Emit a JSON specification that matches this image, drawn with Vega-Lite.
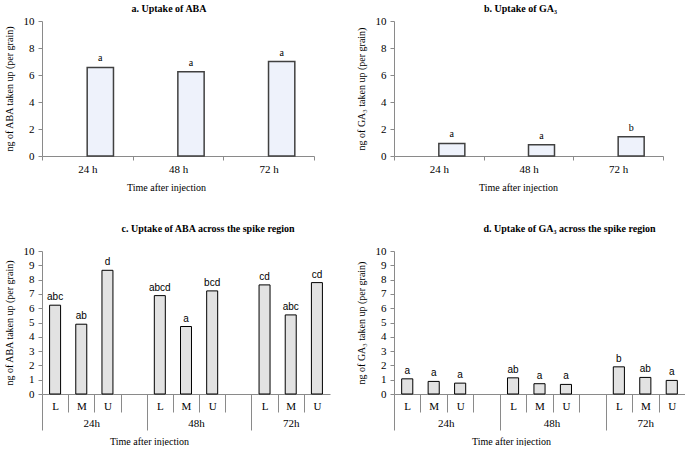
{
  "$schema": "https://vega.github.io/schema/vega-lite/v6.json",
  "padding": {"left": 3, "top": 4, "right": 0, "bottom": 0},
  "config": {
    "view": {"stroke": null},
    "font": "Liberation Serif",
    "axis": {
      "grid": false,
      "domainColor": "#8a8a8a",
      "tickColor": "#8a8a8a",
      "labelColor": "#000000",
      "titleColor": "#000000",
      "labelFont": "Liberation Serif",
      "titleFont": "Liberation Serif",
      "labelFontSize": 11,
      "titleFontSize": 10,
      "titleFontWeight": "normal"
    },
    "axisY": {"tickSize": 4, "labelPadding": 4, "titlePadding": 9},
    "title": {"font": "Liberation Serif", "fontSize": 10, "fontWeight": "bold", "color": "#000000"}
  },
  "datasets": {
    "top": [
      {"panel": "a", "time": "24 h", "value": 6.56, "sig": "a"},
      {"panel": "a", "time": "48 h", "value": 6.24, "sig": "a"},
      {"panel": "a", "time": "72 h", "value": 7.0, "sig": "a"},
      {"panel": "b", "time": "24 h", "value": 0.93, "sig": "a"},
      {"panel": "b", "time": "48 h", "value": 0.84, "sig": "a"},
      {"panel": "b", "time": "72 h", "value": 1.43, "sig": "b"}
    ],
    "bottom": [
      {"panel": "c", "time": "24h", "region": "L", "slot": "24h|L", "value": 6.21, "sig": "abc"},
      {"panel": "c", "time": "24h", "region": "M", "slot": "24h|M", "value": 4.88, "sig": "ab"},
      {"panel": "c", "time": "24h", "region": "U", "slot": "24h|U", "value": 8.65, "sig": "d"},
      {"panel": "c", "time": "48h", "region": "L", "slot": "48h|L", "value": 6.88, "sig": "abcd"},
      {"panel": "c", "time": "48h", "region": "M", "slot": "48h|M", "value": 4.72, "sig": "a"},
      {"panel": "c", "time": "48h", "region": "U", "slot": "48h|U", "value": 7.21, "sig": "bcd"},
      {"panel": "c", "time": "72h", "region": "L", "slot": "72h|L", "value": 7.63, "sig": "cd"},
      {"panel": "c", "time": "72h", "region": "M", "slot": "72h|M", "value": 5.53, "sig": "abc"},
      {"panel": "c", "time": "72h", "region": "U", "slot": "72h|U", "value": 7.79, "sig": "cd"},
      {"panel": "d", "time": "24h", "region": "L", "slot": "24h|L", "value": 1.06, "sig": "a"},
      {"panel": "d", "time": "24h", "region": "M", "slot": "24h|M", "value": 0.88, "sig": "a"},
      {"panel": "d", "time": "24h", "region": "U", "slot": "24h|U", "value": 0.76, "sig": "a"},
      {"panel": "d", "time": "48h", "region": "L", "slot": "48h|L", "value": 1.13, "sig": "ab"},
      {"panel": "d", "time": "48h", "region": "M", "slot": "48h|M", "value": 0.72, "sig": "a"},
      {"panel": "d", "time": "48h", "region": "U", "slot": "48h|U", "value": 0.67, "sig": "a"},
      {"panel": "d", "time": "72h", "region": "L", "slot": "72h|L", "value": 1.90, "sig": "b"},
      {"panel": "d", "time": "72h", "region": "M", "slot": "72h|M", "value": 1.16, "sig": "ab"},
      {"panel": "d", "time": "72h", "region": "U", "slot": "72h|U", "value": 0.95, "sig": "a"}
    ]
  },
  "columns": 2,
  "align": "all",
  "bounds": "flush",
  "spacing": {"row": 87, "column": 61},
  "concat": [
    {
      "width": 272, "height": 135,
      "title": {"text": "a. Uptake  of ABA", "offset": 1, "dx": -9},
      "data": {"name": "top"},
      "transform": [{"filter": "datum.panel === 'a'"}],
      "encoding": {
        "x": {"field": "time", "type": "nominal", "sort": null,
          "scale": {"paddingInner": 0, "paddingOuter": 0},
          "axis": {"labelAngle": 0, "tickBand": "extent", "tickSize": 4, "labelPadding": 3, "title": "Time after injection", "titleX": 124, "titleAlign": "center", "titlePadding": 8}},
        "y": {"field": "value", "type": "quantitative",
          "scale": {"domain": [0, 10]},
          "axis": {"values": [0, 2, 4, 6, 8, 10], "title": "ng of ABA taken up (per grain)"}}
      },
      "layer": [
        {"mark": {"type": "bar", "width": {"band": 0.29}, "xOffset": 13, "fill": "#eef2fb", "stroke": "#404040", "strokeWidth": 1.5}},
        {"mark": {"type": "text", "xOffset": 13, "baseline": "bottom", "dy": -4, "font": "Liberation Serif", "fontSize": 10}, "encoding": {"text": {"field": "sig"}}}
      ]
    },
    {
      "width": 269, "height": 135,
      "title": {"text": "b. Uptake  of GA₃", "offset": 1, "dx": -8},
      "data": {"name": "top"},
      "transform": [{"filter": "datum.panel === 'b'"}],
      "encoding": {
        "x": {"field": "time", "type": "nominal", "sort": null,
          "scale": {"paddingInner": 0, "paddingOuter": 0},
          "axis": {"labelAngle": 0, "tickBand": "extent", "tickSize": 4, "labelPadding": 3, "title": "Time after injection", "titleX": 124, "titleAlign": "center", "titlePadding": 8}},
        "y": {"field": "value", "type": "quantitative",
          "scale": {"domain": [0, 10]},
          "axis": {"values": [0, 2, 4, 6, 8, 10], "title": "ng of GA₃ taken up (per grain)"}}
      },
      "layer": [
        {"mark": {"type": "bar", "width": {"band": 0.29}, "xOffset": 13, "fill": "#eef2fb", "stroke": "#404040", "strokeWidth": 1.5}},
        {"mark": {"type": "text", "xOffset": 13, "baseline": "bottom", "dy": -4, "font": "Liberation Serif", "fontSize": 10}, "encoding": {"text": {"field": "sig"}}}
      ]
    },
    {
      "width": 288, "height": 143,
      "title": {"text": "c. Uptake  of ABA across the spike region", "offset": 11, "dx": 22},
      "data": {"name": "bottom"},
      "transform": [{"filter": "datum.panel === 'c'"}],
      "encoding": {
        "y": {"field": "value", "type": "quantitative",
          "scale": {"domain": [0, 10]},
          "axis": {"values": [0, 1, 2, 3, 4, 5, 6, 7, 8, 9, 10], "labelOverlap": false, "title": "ng of ABA taken up (per grain)"}}
      },
      "layer": [
        {
          "mark": {"type": "bar", "width": {"band": 0.42}, "fill": "#e2e2e2", "stroke": "#000000", "strokeWidth": 1},
          "encoding": {
            "x": {"field": "slot", "type": "nominal", "sort": null,
              "scale": {"domain": ["24h|L","24h|M","24h|U","24h|_","48h|L","48h|M","48h|U","48h|_","72h|L","72h|M","72h|U"], "paddingInner": 0, "paddingOuter": 0},
              "axis": {"labelAngle": 0, "labelExpr": "datum.value == '24h|_' || datum.value == '48h|_' ? '' : split(datum.value, '|')[1]",
                "tickBand": "extent",
                "tickSize": {"condition": {"test": "datum.extra || datum.value == '24h|_' || datum.value == '48h|_'", "value": 36}, "value": 18},
                "tickOpacity": {"condition": {"test": "datum.value == '72h|U'", "value": 0}, "value": 1},
                "labelPadding": -12,
                "title": "Time after injection", "titleX": 107, "titleY": 47, "titleAlign": "center", "titleBaseline": "middle"}}
          }
        },
        {
          "mark": {"type": "text", "baseline": "bottom", "dy": -3, "font": "Liberation Sans", "fontSize": 10},
          "encoding": {
            "x": {"field": "slot", "type": "nominal", "sort": null,
              "scale": {"domain": ["24h|L","24h|M","24h|U","24h|_","48h|L","48h|M","48h|U","48h|_","72h|L","72h|M","72h|U"], "paddingInner": 0, "paddingOuter": 0},
              "axis": {"orient": "bottom", "domain": false, "ticks": false, "tickSize": 0, "labelAngle": 0, "labelPadding": 23,
                "labelExpr": "datum.value == '24h|M' ? '24h' : datum.value == '48h|M' ? '48h' : datum.value == '72h|M' ? '72h' : ''",
                "labelOffset": {"condition": {"test": "datum.value == '72h|M'", "value": 0}, "value": 10},
                "title": null}},
            "text": {"field": "sig"}
          }
        }
      ],
      "resolve": {"scale": {"x": "independent"}, "axis": {"x": "independent"}}
    },
    {
      "width": 291, "height": 143,
      "title": {"text": "d. Uptake  of GA₃ across the spike region", "offset": 11, "dx": 30},
      "data": {"name": "bottom"},
      "transform": [{"filter": "datum.panel === 'd'"}],
      "encoding": {
        "y": {"field": "value", "type": "quantitative",
          "scale": {"domain": [0, 10]},
          "axis": {"values": [0, 1, 2, 3, 4, 5, 6, 7, 8, 9, 10], "labelOverlap": false, "title": "ng of GA₃ taken up (per grain)"}}
      },
      "layer": [
        {
          "mark": {"type": "bar", "width": {"band": 0.42}, "fill": "#e2e2e2", "stroke": "#000000", "strokeWidth": 1},
          "encoding": {
            "x": {"field": "slot", "type": "nominal", "sort": null,
              "scale": {"domain": ["24h|L","24h|M","24h|U","24h|_","48h|L","48h|M","48h|U","48h|_","72h|L","72h|M","72h|U"], "paddingInner": 0, "paddingOuter": 0},
              "axis": {"labelAngle": 0, "labelExpr": "datum.value == '24h|_' || datum.value == '48h|_' ? '' : split(datum.value, '|')[1]",
                "tickBand": "extent",
                "tickSize": {"condition": {"test": "datum.extra || datum.value == '24h|_' || datum.value == '48h|_'", "value": 36}, "value": 18},
                "tickOpacity": {"condition": {"test": "datum.value == '72h|U'", "value": 0}, "value": 1},
                "labelPadding": -12,
                "title": "Time after injection", "titleX": 117, "titleY": 47, "titleAlign": "center", "titleBaseline": "middle"}}
          }
        },
        {
          "mark": {"type": "text", "baseline": "bottom", "dy": -3, "font": "Liberation Sans", "fontSize": 10},
          "encoding": {
            "x": {"field": "slot", "type": "nominal", "sort": null,
              "scale": {"domain": ["24h|L","24h|M","24h|U","24h|_","48h|L","48h|M","48h|U","48h|_","72h|L","72h|M","72h|U"], "paddingInner": 0, "paddingOuter": 0},
              "axis": {"orient": "bottom", "domain": false, "ticks": false, "tickSize": 0, "labelAngle": 0, "labelPadding": 23,
                "labelExpr": "datum.value == '24h|M' ? '24h' : datum.value == '48h|M' ? '48h' : datum.value == '72h|M' ? '72h' : ''",
                "labelOffset": {"condition": {"test": "datum.value == '72h|M'", "value": 0}, "value": 12},
                "title": null}},
            "text": {"field": "sig"}
          }
        }
      ],
      "resolve": {"scale": {"x": "independent"}, "axis": {"x": "independent"}}
    }
  ]
}
